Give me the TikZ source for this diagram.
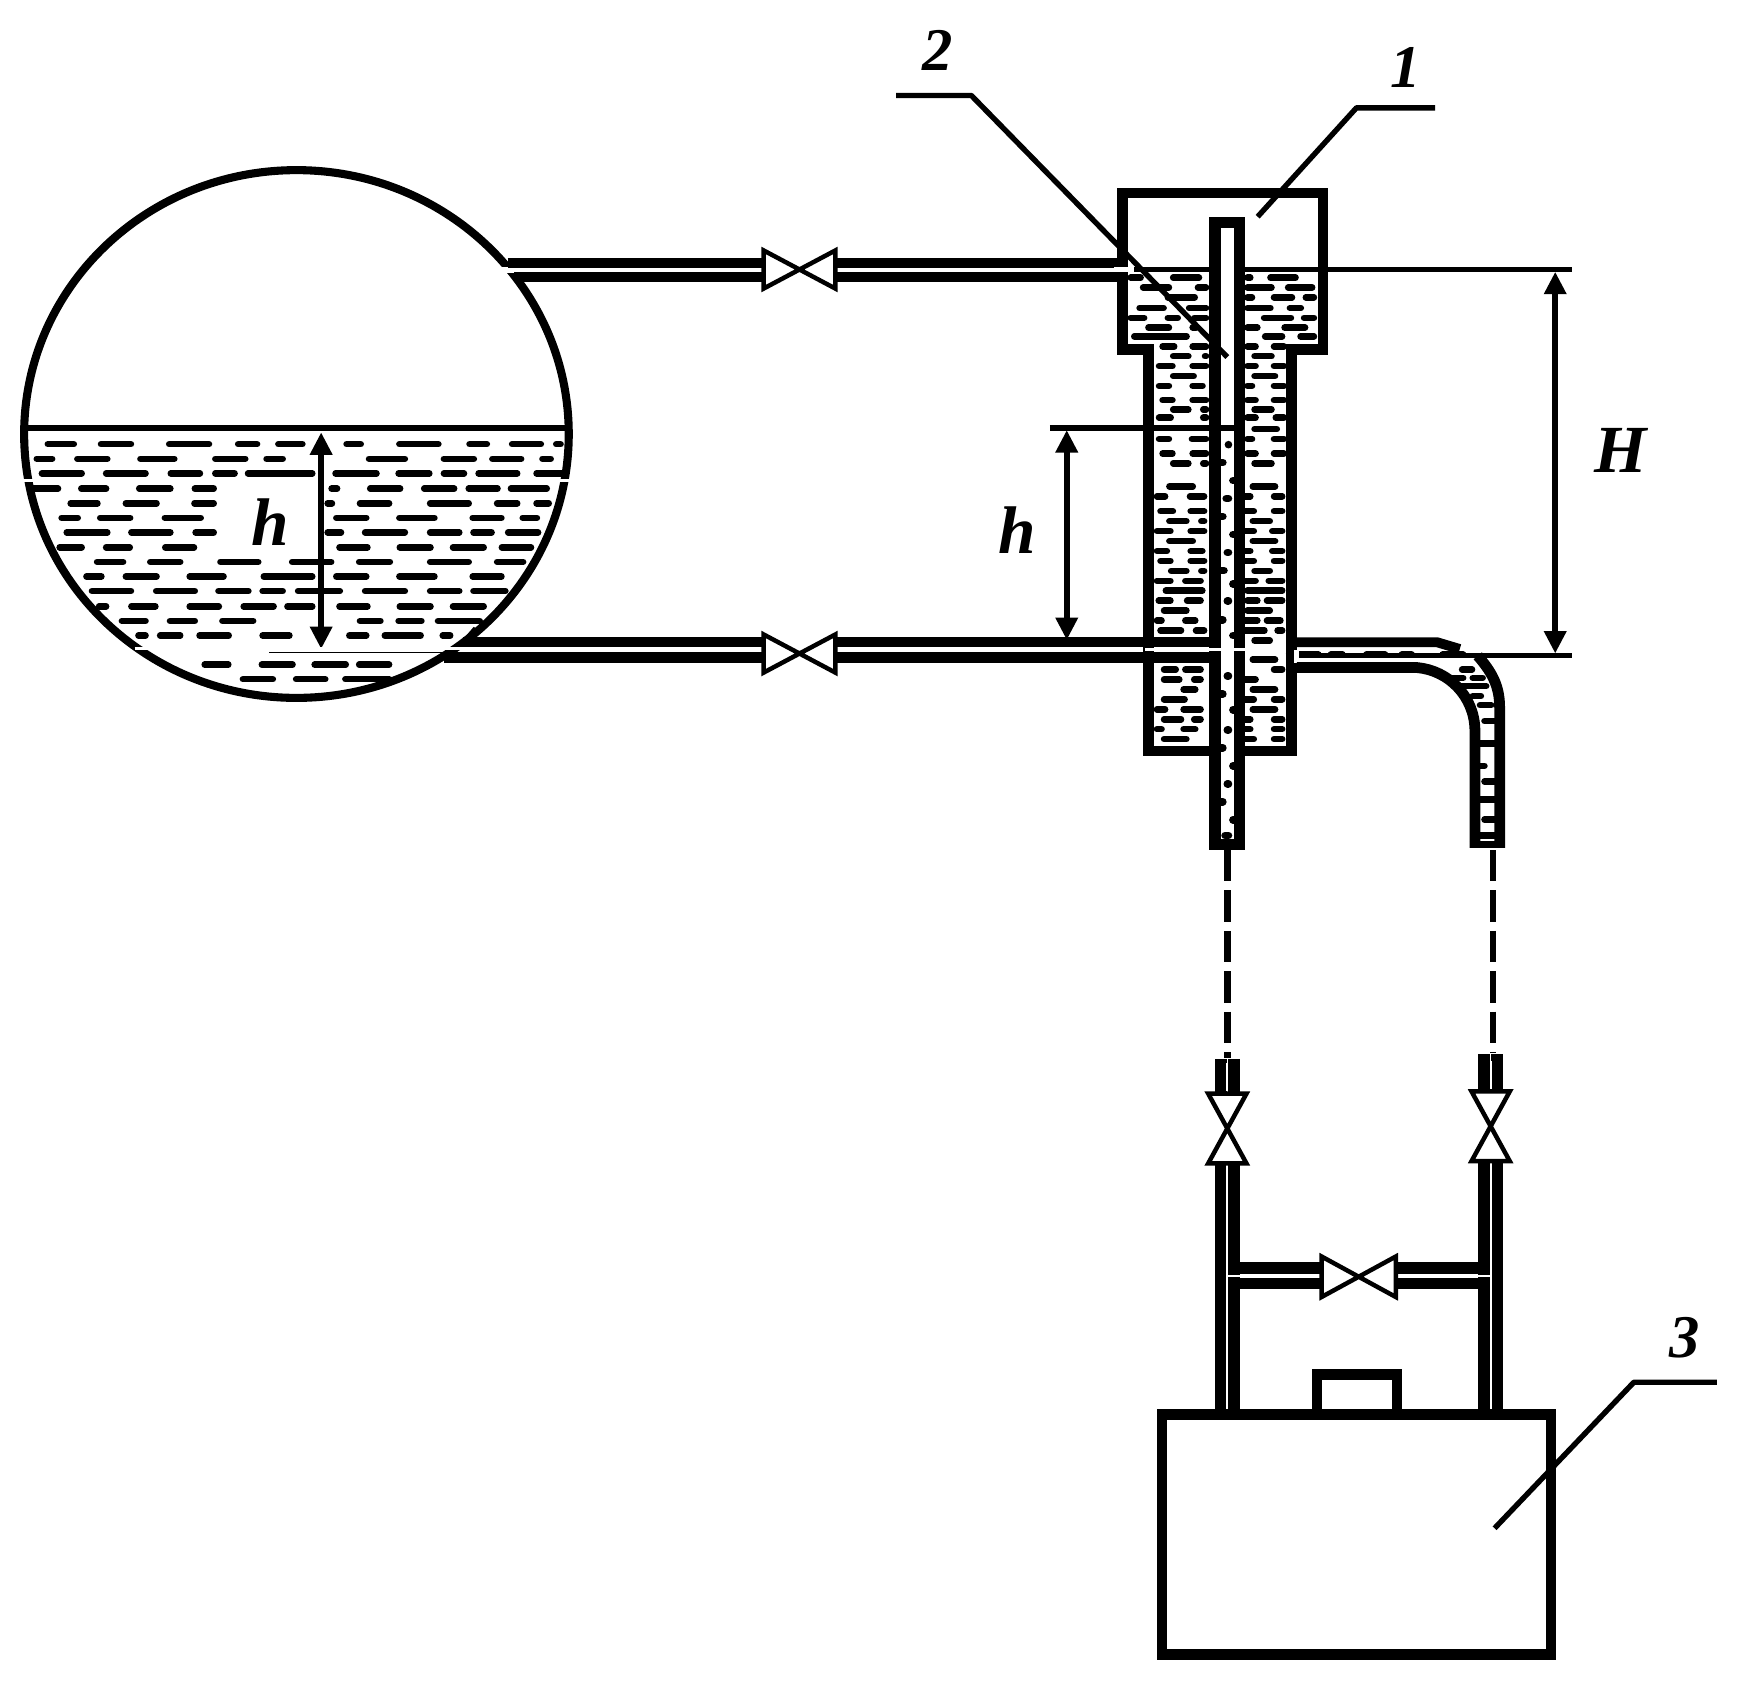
\documentclass[tikz,border=0pt]{standalone}
\usepackage{fontspec}
\setmainfont{Liberation Serif}
\usetikzlibrary{arrows.meta}
\tikzset{
 wall/.style={draw=black,line width=3.6pt,line join=miter},
 pipeline/.style={draw=black,line width=4.5pt},
 hair/.style={draw=white,line width=1.6pt},
 thinl/.style={draw=black,line width=2.4pt},
 drop/.style={draw=black,line width=2.9pt,line cap=round},
 valveshape/.style={draw=black,fill=white,line width=2pt,line join=miter},
 dim/.style={draw=black,line width=2.5pt,{Triangle[length=10pt,width=9.5pt]}-{Triangle[length=10pt,width=9.5pt]}},
 leader/.style={draw=black,line width=2.4pt,line join=round},
 dashedlink/.style={draw=black,line width=3pt,dash pattern=on 14pt off 4pt},
 numlabel/.style={font=\fontsize{27}{27}\selectfont\bfseries\itshape,inner sep=0pt},
 letlabel/.style={font=\fontsize{30}{30}\selectfont\bfseries\itshape,inner sep=0pt},
}
\newcommand{\hvalve}[2]{%
 \draw[valveshape] (#1-32,#2-17) -- (#1+32,#2+17) -- (#1+32,#2-17) -- (#1-32,#2+17) -- cycle;}
\newcommand{\vvalve}[2]{%
 \draw[valveshape] (#1-17,#2-31) -- (#1+17,#2-31) -- (#1-17,#2+31) -- (#1+17,#2+31) -- cycle;}
\begin{document}
\begin{tikzpicture}[x=0.5pt,y=-0.5pt]
\useasboundingbox (0,0) rectangle (1566.5,1500.6);
\fill[white] (0,0) rectangle (1566.5,1500.6);
% ---------- tank
\draw[wall] (264,386.5) ellipse [x radius=242.5, y radius=235];
\draw[hair] (5,428) -- (40,428);
\draw[hair] (480,428) -- (515,428);
\draw[thinl] (20,381) -- (507,381);
\foreach \r/\l in {
795/{110/190,245/335,418/533,593/655,695/770,868/918,1002/1115,1180/1238,1288/1375,1400/1425},
835/{82/135,185/275,345/445,535/625,665/720,925/1030,1115/1205,1238/1325,1365/1400},
875/{95/210,258/372,422/510,535/598,618/795,840/958,1000/1092,1115/1180,1203/1315,1350/1430},
917/{70/150,195/272,342/435,483/545,830/858,928/1018,1065/1155,1178/1265,1285/1390},
957/{168/250,308/400,482/545,820/845,902/990,1080/1192,1250/1315,1350/1395},
997/{145/200,243/333,407/512,842/932,1002/1105,1188/1275,1315/1365},
1037/{158/275,322/435,485/545,820/868,915/1030,1080/1168,1190/1250,1278/1368},
1078/{140/210,258/332,408/495,850/935,1003/1095,1138/1230,1262/1350},
1118/{235/315,370/460,548/658,730/843,900/992,1080/1192,1250/1330},
1158/{208/260,308/400,470/570,658/795,842/932,1002/1105,1188/1275},
1198/{222/335,385/497,543/633,655/720,745/865,915/1030,1080/1168,1190/1285},
1240/{240/272,322/397,470/558,607/697,718/795,850/935,1003/1095,1138/1230},
1280/{298/372,420/497,553/645,902/968,1000/1072,1100/1220},
1320/{340/372,395/460,495/583,655/737,875/932,965/1070,1112/1145},
1400/{508/582,653/745,787/880,900/990},
1440/{605/695,740/828,865/990}}{
 \foreach \a/\b in \l {
  \draw[drop] ({18+(\a+7-47)*.351},{148+(\r-32)*.3245}) -- ({18+(\b-7-47)*.351},{148+(\r-32)*.3245});
 }
}
\coordinate (tankup) at (286,385);
\coordinate (tankdn) at (286,578);
\draw[dim] (tankup) -- (tankdn);
\node[letlabel] (htank) at (241,465) {h};
% ---------- pipe cuts
\fill[white] (440,238) rectangle (480,243);
% upper pipe
\coordinate (upA) at (452,234);
\coordinate (upB) at (458,247);
\draw[pipeline] (upA) -- (680,234);
\draw[pipeline] (upB) -- (680,247);
\draw[pipeline] (745,234) -- (1000,234);
\draw[pipeline] (745,247) -- (1000,247);
\hvalve{712}{240}
% lower pipe
\draw[pipeline] (412,572) -- (680,572);
\draw[pipeline] (395,585.5) -- (680,585.5);
\draw[line width=2.8pt] (412,574) -- (424,560);
\draw[draw=black,line width=0.8pt] (240,581) -- (400,581);
\draw[draw=white,line width=1.2pt] (120,577.5) -- (414,577.5);
\draw[pipeline] (745,572) -- (1085,572);
\draw[pipeline] (745,585.5) -- (1085,585.5);
\hvalve{712}{582}
% ---------- body liquid
\foreach \r/\l in {
832/{215/255,335/420,545/565,610/693},
862/{250/335,405/440,545/625,660/740},
892/{320/408,545/570,620/683,710/745},
925/{240/320,380/440,545/622,665/708},
955/{215/265,320/360,395/440,592/680,705/745},
985/{265/335,390/412,545/585,650/720},
1012/{225/385,595/655,695/745},
1043/{305/350,390/440,545/580,620/660},
1073/{335/390,425/440,565/625},
1103/{295/345,390/440,545/580,620/660},
1134/{335/405,565/635},
1164/{295/335,390/430,545/570,620/660},
1208/{305/345,390/440,545/580,620/660},
1237/{335/390,420/440,565/625},
1262/{295/340,420/440,545/580,625/660},
1297/{565/640},
1327/{295/335,388/440,545/570,620/660},
1372/{305/345,390/440,545/580,620/660},
1402/{335/390,420/440,565/625}}{
 \foreach \a/\b in \l {
  \draw[drop] ({995+(\a+6-183)*.315},{167+(\r-555)*.29}) -- ({995+(\b-6-183)*.315},{167+(\r-555)*.29});
 }
}
\foreach \r/\l in {
22/{330/408,565/640},
52/{295/330,388/440,545/570,625/660},
97/{305/352,390/440,545/580,625/660},
127/{330/390,420/440,565/625},
157/{295/345,390/440,545/580,620/660},
187/{330/408,565/640},
217/{295/335,390/435,545/570,620/660},
247/{305/345,390/440,545/580,625/660},
277/{335/390,420/440,570/625},
307/{295/345,375/430,545/585,610/660},
337/{320/435,550/660},
367/{300/345,380/430,550/590,605/660},
397/{315/390,550/625},
427/{295/320,375/415,545/590,605/655},
457/{305/375,405/440,545/610,635/660},
487/{570/625},
545/{565/640},
575/{375/430,315/360,625/660},
605/{315/370,400/430,545/585},
635/{370/415,565/640},
665/{315/385,545/580,625/660},
695/{295/330,370/430,565/640},
725/{315/375,400/430,545/570,625/660},
755/{370/415,295/320,545/570,625/660},
785/{315/390,540/580,625/660},
530/{692/762,785/830,885/950,985/1025,1100/1170},
575/{1155/1195},
600/{1120/1170,1185/1225},
625/{1150/1235},
655/{1185/1220}}{
 \foreach \a/\b in \l {
  \draw[drop] ({1018+(\a+6-262)*.316},{583+(\r-530)*.295}) -- ({1018+(\b-6-262)*.316},{583+(\r-530)*.295});
 }
}
% ---------- level lines
\draw[thinl] (1010,240) -- (1400,240);
\draw[thinl] (1145,583.5) -- (1400,583.5);
\draw[thinl] (935,381) -- (1100,381);
% ---------- body
\draw[wall,line width=4.8pt] (1022.8,668.8) -- (1022.8,311) -- (999.8,311) -- (999.8,171.8) -- (1178.2,171.8) -- (1178.2,311) -- (1150.2,311) -- (1150.2,668.8) -- cycle;
\fill[white] (992,238) rectangle (1007,242.5);
\draw[draw=white,line width=2.2pt] (1155,579) -- (1155,590);
% ---------- right elbow
\draw[line width=4.4pt] (1155,572) -- (1280,572) -- (1300,578);
\draw[line width=4.8pt,line join=round] (1155,594.5) -- (1262,594.5) .. controls (1290,597) and (1313,620) .. (1313.5,650) -- (1313.5,755);
\draw[line width=4.8pt,line join=round] (1316,584) .. controls (1328,598) and (1335.5,610) .. (1335.5,630) -- (1335.5,755);
\draw[line width=3pt] (1309,752) -- (1340,752);
\foreach \y/\a/\b in {628/1318/1328,642/1322/1331,662/1316/1331,682/1316/1322,696/1322/1331,712/1316/1331,730/1322/1331,744/1316/1331}{
 \draw[drop] (\a,\y) -- (\b,\y);
}
% ---------- inner tube
\draw[draw=black,fill=white,line width=5.2pt,line join=miter] (1082.2,198.2) -- (1103.8,198.2) -- (1103.8,752) -- (1082.2,752) -- cycle;
\draw[thinl] (1086,381) -- (1100,381);
\foreach \y/\a/\b in {396/1094/1094,412/1087/1089,428/1098/1099,444/1092/1094,460/1087/1089,476/1098/1099,492/1093/1094,508/1087/1090,520/1098/1099,535/1093/1094,552/1087/1089,566/1098/1099,602/1093/1094,618/1087/1089,632/1098/1099,650/1093/1094,666/1087/1089,682/1098/1099,698/1093/1094,714/1087/1089,730/1098/1099,744/1091/1094}{
 \draw[line width=3.4pt,line cap=round] (\a,\y) -- (\b,\y);
}
\draw[draw=white,line width=1.4pt] (1020,578.5) -- (1120,578.5);
% ---------- dim
\coordinate (Ha) at (1385,242);
\coordinate (Hb) at (1385,582);
\draw[dim] (Ha) -- (Hb);
\coordinate (ha) at (950,383);
\coordinate (hb) at (950,570);
\draw[dim] (ha) -- (hb);
\node[letlabel] (hbody) at (906,472) {h};
\node[letlabel] (Hbody) at (1443,401) {H};
% ---------- leaders and numbers
\coordinate (la) at (1120,193);
\coordinate (lb) at (1208,96);
\coordinate (lc) at (1278,96);
\draw[leader] (la) -- (lb) -- (lc);
\node[numlabel] (n1) at (1252,60) {1};
\coordinate (ma) at (1093,318);
\coordinate (mb) at (865,85);
\coordinate (mc) at (798,85);
\draw[leader] (ma) -- (mb) -- (mc);
\node[numlabel] (n2) at (835,45) {2};
\coordinate (ka) at (1331,1361);
\coordinate (kb) at (1455,1231);
\coordinate (kc) at (1529,1231);
% ---------- dashed links
\coordinate (ta) at (1093,757);
\coordinate (tb) at (1093,942);
\coordinate (ra) at (1329.5,757);
\coordinate (rb) at (1329.5,938);
\draw[dashedlink] (ta) -- (tb);
\draw[dashedlink] (ra) -- (rb);
% ---------- lower assembly
\foreach \c/\t in {1093/943,1327.5/939}{
 \draw[line width=5.5pt] (\c-5.7,\t) -- (\c-5.7,980);
 \draw[line width=5.5pt] (\c+5.7,\t) -- (\c+5.7,980);
 \draw[line width=5.5pt] (\c-5.7,1030) -- (\c-5.7,1255);
 \draw[line width=5.5pt] (\c+5.7,1030) -- (\c+5.7,1255);
}
\draw[line width=5.2pt] (1101,1129.5) -- (1178,1129.5);
\draw[line width=5.2pt] (1101,1143) -- (1178,1143);
\draw[line width=5.2pt] (1242,1129.5) -- (1320,1129.5);
\draw[line width=5.2pt] (1242,1143) -- (1320,1143);
\fill[white] (1093,1135) rectangle (1107,1137.6);
\fill[white] (1314,1135) rectangle (1327.5,1137.6);
\draw[draw=white,line width=0.9pt] (1093,1000) -- (1093,1255);
\draw[draw=white,line width=0.9pt] (1327.5,1000) -- (1327.5,1255);
\draw[draw=white,line width=0.9pt] (1093,947) -- (1093,972);
\draw[draw=white,line width=0.9pt] (1327.5,945) -- (1327.5,970);
\vvalve{1093}{1005}
\vvalve{1327.5}{1003}
\draw[valveshape] (1177,1119) -- (1243,1155) -- (1243,1119) -- (1177,1155) -- cycle;
\draw[wall,line width=4.8pt] (1172.8,1255) -- (1172.8,1223.8) -- (1244,1223.8) -- (1244,1255);
\draw[wall,line width=4.8pt] (1034.8,1259.8) rectangle (1381.2,1473.2);
\draw[leader] (ka) -- (kb) -- (kc);
\node[numlabel] (n3) at (1500,1191) {3};
\end{tikzpicture}
\end{document}
